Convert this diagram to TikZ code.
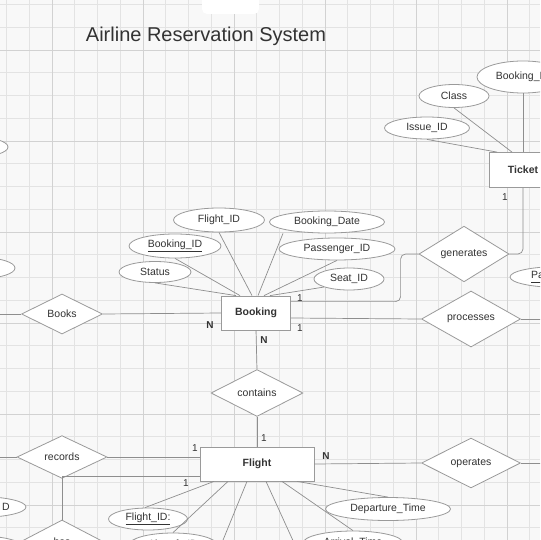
\documentclass[tikz,border=0pt]{standalone}
\usepackage{fontspec}
\setmainfont{Liberation Sans}
\usetikzlibrary{shapes.geometric,calc}
\definecolor{bgc}{HTML}{F8F8F8}
\definecolor{gridminor}{HTML}{E3E3E3}
\definecolor{gridmajor}{HTML}{D2D2D2}
\definecolor{linec}{HTML}{8E8E8E}
\definecolor{shapec}{HTML}{9A9A9A}
\definecolor{txt}{HTML}{333333}
\tikzset{
  attr/.style={draw=shapec, fill=white, ellipse, inner sep=0pt, line width=0.8pt, text=txt, font=\fontsize{10.5}{12}\selectfont},
  entity/.style={draw=shapec, fill=white, rectangle, inner sep=0pt, line width=0.8pt, text=txt, font=\fontsize{10.5}{12}\selectfont\bfseries},
  rel/.style={draw=shapec, fill=white, diamond, inner sep=0pt, line width=0.8pt, text=txt, font=\fontsize{10.5}{12}\selectfont},
  conn/.style={draw=linec, line width=0.7pt},
  card/.style={text=txt, inner sep=0pt, font=\fontsize{10}{11}\selectfont},
  minorgrid/.style={draw=gridminor, line width=0.6pt},
  majorgrid/.style={draw=gridmajor, line width=0.8pt}
}
\begin{document}
\begin{tikzpicture}[x=1pt,y=-1pt]
\useasboundingbox (0,0) rectangle (540,540);
\clip (0,0) rectangle (540,540);
\fill[bgc] (0,0) rectangle (540,540);
% grid
\foreach \i in {-3,...,22}{
  \pgfmathsetmacro\gx{52+22.75*\i}
  \pgfmathsetmacro\gy{50+22.75*\i}
  \draw[minorgrid] (\gx,0) -- (\gx,540);
  \draw[minorgrid] (0,\gy) -- (540,\gy);
}
\foreach \i in {-1,...,6}{
  \pgfmathsetmacro\gx{52+91*\i}
  \pgfmathsetmacro\gy{50+91*\i}
  \draw[majorgrid] (\gx,0) -- (\gx,540);
  \draw[majorgrid] (0,\gy) -- (540,\gy);
}
% top tab
\fill[white, rounded corners=5pt] (202,-8) rectangle (259,14);
% title
\node[text=txt, font=\fontsize{20}{23}\selectfont] (title) at (206,36) {Airline Reservation System};

% coordinates at picture edges
\coordinate (eL1) at (-5,314);
\coordinate (eL2) at (-5,457);
\coordinate (eR1) at (545,319);
\coordinate (eR2) at (545,463);

% Ticket area
\node[attr, minimum width=92pt, minimum height=32pt] (bkid2) at (523,77) {Booking\_ID};
\node[attr, minimum width=70pt, minimum height=23pt] (class) at (454,96) {Class};
\node[attr, minimum width=85pt, minimum height=22pt] (issue) at (427,128) {Issue\_ID};
\node[entity, minimum width=68pt, minimum height=35pt] (ticket) at (523,170) {Ticket};

% left partial ellipses
\node[attr, minimum width=66pt, minimum height=20pt] (lp1) at (-25,147) {};
\node[attr, minimum width=70pt, minimum height=21pt] (lp2) at (-20,268) {};

% Booking attributes
\node[attr, minimum width=91pt, minimum height=24pt] (fid) at (219,220) {Flight\_ID};
\node[attr, minimum width=115pt, minimum height=22pt] (bdate) at (327,222) {Booking\_Date};
\node[attr, minimum width=92pt, minimum height=24pt] (bid) at (175,246) {\underline{Booking\_ID}};
\node[attr, minimum width=116pt, minimum height=22pt] (pid) at (337,249) {Passenger\_ID};
\node[attr, minimum width=72pt, minimum height=21pt] (status) at (155,272) {Status};
\node[attr, minimum width=70pt, minimum height=22pt] (seat) at (349,279) {Seat\_ID};
\node[attr, minimum width=100pt, minimum height=21pt] (payid) at (560,277) {\underline{Payment\_ID}};

% Booking entity
\node[entity, minimum width=69pt, minimum height=34pt] (booking) at (256,313) {Booking};

% relationships
\node[rel, minimum width=81pt, minimum height=40pt] (books) at (62,314) {Books};
\node[rel, minimum width=90pt, minimum height=44pt] (generates) at (464,254) {generates};
\node[rel, minimum width=99pt, minimum height=56pt] (processes) at (471,319) {processes};
\node[rel, minimum width=92pt, minimum height=40pt] (contains) at (257,393) {contains};

% Flight
\node[entity, minimum width=114pt, minimum height=34pt] (flight) at (257,464) {Flight};
\node[rel, minimum width=90pt, minimum height=40pt] (records) at (62,457) {records};
\node[rel, minimum width=99pt, minimum height=39pt] (operates) at (471,463) {operates};
\node[rel, minimum width=84pt, minimum height=44pt] (has) at (62,542) {has};

% Flight attributes
\node[attr, minimum width=125pt, minimum height=23pt] (dep) at (388,509) {Departure\_Time};
\node[attr, minimum width=79pt, minimum height=22pt] (ffid) at (148,519) {\underline{Flight\_ID:}};
\node[attr, minimum width=96pt, minimum height=21pt] (lp3) at (-22,507) {};
\node[card, font=\fontsize{10.5}{12}\selectfont, anchor=east] (lp3t) at (10,507) {D};
\node[attr, minimum width=88pt, minimum height=24pt] (lp4) at (-20,548) {};
\node[attr, minimum width=88pt, minimum height=24pt] (acid) at (173,545) {Aircraft\_ID};
\node[attr, minimum width=100pt, minimum height=24pt] (arr) at (353,543) {Arrival\_Time};
\coordinate (fo1) at (221,545);
\coordinate (fo2) at (295,545);

% connectors: Ticket
\draw[conn] (issue.south) -- ([xshift=-26pt]ticket.north);
\draw[conn] (class.south) -- ([xshift=-11pt]ticket.north);
\draw[conn] (bkid2.south) -- (ticket.north);
\draw[conn, rounded corners=5pt] (generates.east) -| (ticket.south);

% connectors: Booking attributes
\draw[conn] (fid.south) -- ([xshift=-4pt]booking.north);
\draw[conn] ([xshift=-44pt]bdate.south) -- ([xshift=2pt]booking.north);
\draw[conn] (bid.south) -- ([xshift=-16pt]booking.north);
\draw[conn] (status.south) -- ([xshift=-20pt]booking.north);
\draw[conn] (pid.south) -- ([xshift=8pt]booking.north);
\draw[conn] (seat.south west) -- ([xshift=14pt]booking.north);

% connectors: Booking relationships
\draw[conn] (eL1) -- (books.west);
\draw[conn] (books.east) -- (booking.west);
\draw[conn, rounded corners=5pt] (booking.north east) ++(0,6) -| ([xshift=-18pt]generates.west) -- (generates.west);
\draw[conn] (booking.east) ++(0,5) -- (processes.west);
\draw[conn] (processes.east) -- (eR1);
\draw[conn] (booking.south) -- (contains.north);
\draw[conn] (contains.south) -- (flight.north);

% connectors: Flight
\draw[conn] (eL2) -- (records.west);
\draw[conn] (records.east) -- (flight.west |- records.east);
\draw[conn] (flight.south west) ++(0,-5) -| (has.north);
\draw[conn] (flight.east) -- (operates.west);
\draw[conn] (operates.east) -- (eR2);
\draw[conn] ([xshift=-43pt]flight.south) -- ([xshift=-3pt]ffid.north);
\draw[conn] ([xshift=-29pt]flight.south) -- (acid.north);
\draw[conn] ([xshift=-10pt]flight.south) -- (fo1);
\draw[conn] ([xshift=9pt]flight.south) -- (fo2);
\draw[conn] ([xshift=25pt]flight.south) -- (arr.north);
\draw[conn] ([xshift=40pt]flight.south) -- (dep.north);

% cardinalities
\node[card] (c1) at (505,197) {1};
\node[card, font=\fontsize{10}{11}\selectfont\bfseries] (c2) at (210,325) {N};
\node[card, font=\fontsize{10}{11}\selectfont\bfseries] (c3) at (264,340) {N};
\node[card] (c4) at (300,298) {1};
\node[card] (c5) at (300,328) {1};
\node[card] (c6) at (264,438) {1};
\node[card] (c7) at (195,448) {1};
\node[card] (c8) at (186,483) {1};
\node[card, font=\fontsize{10}{11}\selectfont\bfseries] (c9) at (326,456) {N};
\end{tikzpicture}
\end{document}
